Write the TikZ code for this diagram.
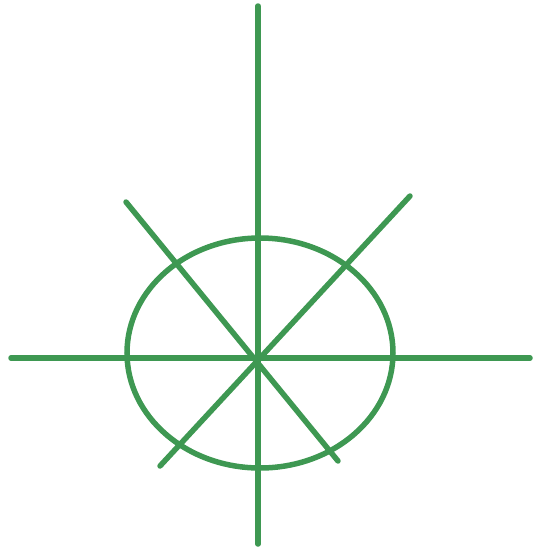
\documentclass[tikz,border=0pt]{standalone}
\definecolor{spokegreen}{RGB}{62,152,82}
\tikzset{spoke/.style={draw=spokegreen, line width=5.5pt, line cap=round}}
\begin{document}
\begin{tikzpicture}[x=1pt, y=-1pt]
\useasboundingbox (0,0) rectangle (535,550);
% axes
\coordinate (top) at (258,6);
\coordinate (bottom) at (258,544);
\coordinate (left) at (11,358);
\coordinate (right) at (530,358);
% diagonals
\coordinate (nw) at (126,202);
\coordinate (se) at (338,461);
\coordinate (ne) at (410,196);
\coordinate (sw) at (160,466);

\draw[spoke] (260,353) ellipse [x radius=133, y radius=115];
\draw[spoke] (top) -- (bottom);
\draw[spoke] (left) -- (right);
\draw[spoke] (nw) -- (se);
\draw[spoke] (ne) -- (sw);
\end{tikzpicture}
\end{document}
